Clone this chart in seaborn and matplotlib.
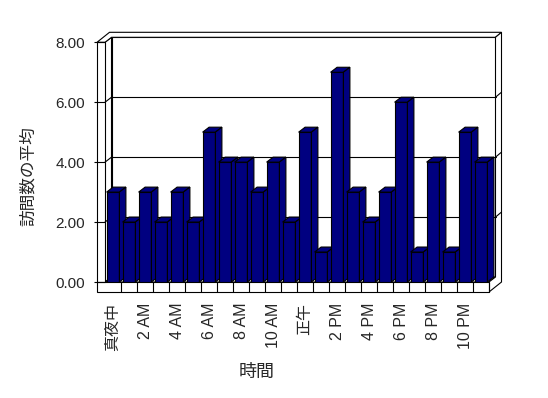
import numpy as np
import matplotlib.pyplot as plt
from matplotlib.patches import Polygon, Rectangle
import seaborn as sns

# hourly average visits
hours = ['真夜中', '1 AM', '2 AM', '3 AM', '4 AM', '5 AM', '6 AM', '7 AM',
         '8 AM', '9 AM', '10 AM', '11 AM', '正午', '1 PM', '2 PM', '3 PM',
         '4 PM', '5 PM', '6 PM', '7 PM', '8 PM', '9 PM', '10 PM', '11 PM']
visits = [3, 2, 3, 2, 3, 2, 5, 4, 4, 3, 4, 2, 5, 1, 7, 3, 2, 3, 6, 1, 4, 1, 5, 4]
y_ticks = [0, 2, 4, 6, 8]

sns.set_style('white')
plt.rcParams['font.family'] = ['Liberation Sans', 'Noto Sans CJK JP']

W, H = 548, 398
fig = plt.figure(figsize=(W / 100, H / 100), dpi=100)
ax_l, ax_b, ax_w, ax_h = 105, 116, 384, 239.7
ax = fig.add_axes([ax_l / W, ax_b / H, ax_w / W, ax_h / H])
ax.patch.set_alpha(0)

sns.barplot(x=hours, y=visits, color='#000080', saturation=1, width=0.8,
            edgecolor='black', linewidth=0.8, ax=ax)
ax.set_xlim(-0.5, 23.5)
ax.set_ylim(0, 8)

# pixel -> data units for the fake 3D depth
ux = ax_w / 24
uy = ax_h / 8
ddx, ddy = 6.5 / ux, 5 / uy      # depth of floor / bars
Dx, Dy = 12.5 / ux, 10 / uy      # depth incl. back wall thickness
w = 8 / ux                       # left wall thickness
f = 10 / uy                      # floor thickness
L, R, T = -0.5, 23.5, 8


def face(pts, z, fc='white'):
    ax.add_patch(Polygon(pts, closed=True, fc=fc, ec='black', lw=0.8,
                         clip_on=False, zorder=z, joinstyle='miter'))


# walls and floor
ax.add_patch(Rectangle((L + ddx, ddy), R - L, T, fc='white', ec='black',
                       lw=0.8, clip_on=False, zorder=0.3))
face([(L, 0), (L, T), (L + ddx, T + ddy), (L + ddx, ddy)], 0.3)
face([(L, 0), (R, 0), (R + ddx, ddy), (L + ddx, ddy)], 0.3)
face([(L - w, T), (L, T), (L + ddx, T + ddy), (R + ddx, T + ddy),
      (R + Dx, T + Dy), (L - w + Dx, T + Dy)], 0.3)
face([(R, -f), (R, 0), (R + ddx, ddy), (R + ddx, T + ddy),
      (R + Dx, T + Dy), (R + Dx, -f + Dy)], 0.3)
ax.add_patch(Rectangle((L - w, 0), w, T, fc='white', ec='black', lw=0.8,
                       clip_on=False, zorder=0.35))
ax.add_patch(Rectangle((L - w, -f), R - L + w, f, fc='white', ec='black',
                       lw=0.8, clip_on=False, zorder=0.35))

for v in y_ticks[1:-1]:
    ax.plot([L + ddx, R + ddx], [v + ddy, v + ddy], color='black', lw=0.8,
            zorder=0.4, clip_on=False)
    ax.plot([L, L + ddx], [v, v + ddy], color='black', lw=0.8,
            zorder=0.4, clip_on=False)
    ax.plot([R + ddx, R + Dx], [v + ddy, v + Dy], color='black', lw=0.8,
            zorder=0.4, clip_on=False)

# 3D faces of the bars
bars = list(ax.patches)[:len(visits)]
for i, p in enumerate(bars):
    z = 2 + 0.01 * i
    p.set_zorder(z)
    x0 = p.get_x()
    x1 = x0 + p.get_width()
    h = p.get_height()
    face([(x0, h), (x1, h), (x1 + ddx, h + ddy), (x0 + ddx, h + ddy)],
         z + 0.001, fc='#000080')
    face([(x1, 0), (x1, h), (x1 + ddx, h + ddy), (x1 + ddx, ddy)],
         z + 0.001, fc='#000080')

# axes text
ax.set_yticks(y_ticks, labels=[f'{v:.2f}' for v in y_ticks])
ax.set_xticks(range(0, 24, 2), labels=hours[::2])
ax.set_xticks(np.arange(0.5, 24, 1), minor=True)
ax.tick_params(axis='y', left=True, length=8, width=0.8, pad=6.5,
               labelsize=11, color='black')
ax.tick_params(axis='x', which='major', bottom=False, length=0, pad=15,
               labelrotation=90, labelsize=11.5)
ax.tick_params(axis='x', which='minor', bottom=True, length=7.2, width=0.8,
               color='black')
for s in ax.spines.values():
    s.set_visible(False)

ax.set_xlabel('時間', fontsize=13)
ax.xaxis.set_label_coords(0.3945, -0.34)
ax.set_ylabel('訪問数の平均', fontsize=12)
ax.yaxis.set_label_coords(-0.18, 0.4435)

fig.savefig('out.png', dpi=100)
